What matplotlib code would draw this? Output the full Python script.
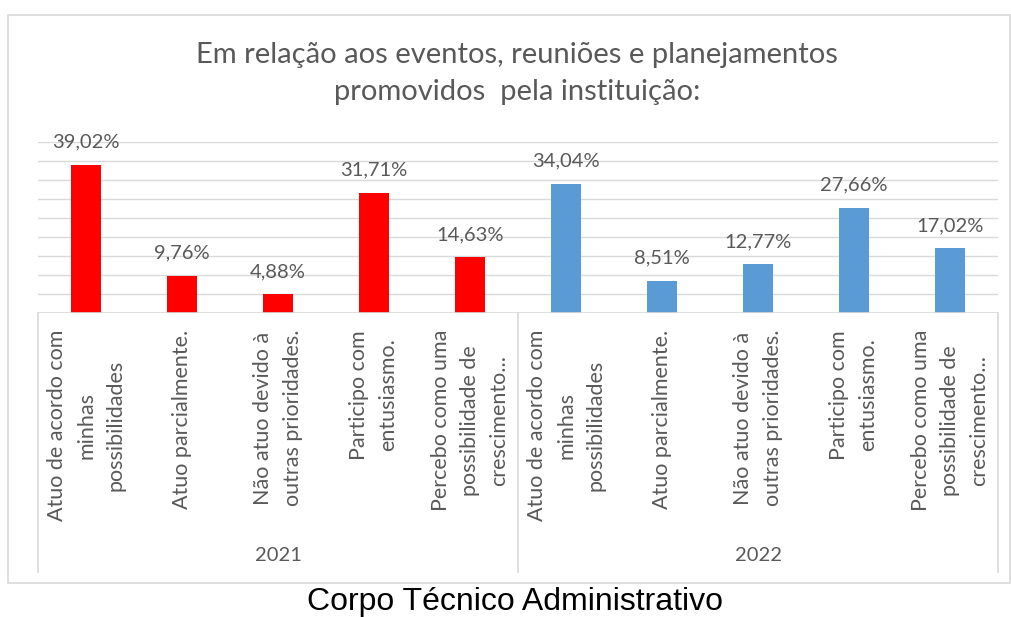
import matplotlib
matplotlib.use('Agg')
import matplotlib.pyplot as plt
from matplotlib.patches import Rectangle

plt.rcParams['font.family'] = ['Lato', 'DejaVu Sans']

TITLE_LINES = ['Em relação aos eventos, reuniões e planejamentos',
               'promovidos  pela instituição:']
CAPTION = 'Corpo Técnico Administrativo'
YEARS = ['2021', '2022']
ANSWERS = ['Atuo de acordo com\nminhas\npossibilidades',
           'Atuo parcialmente.',
           'Não atuo devido à\noutras prioridades.',
           'Participo com\nentusiasmo.',
           'Percebo como uma\npossibilidade de\ncrescimento...']
VALS_2021 = [39.02, 9.76, 4.88, 31.71, 14.63]
VALS_2022 = [34.04, 8.51, 12.77, 27.66, 17.02]
COLORS = {'2021': '#FF0000', '2022': '#5B9BD5'}

TXT = '#595959'
GRID = '#D9D9D9'

W, H = 1011, 617
fig = plt.figure(figsize=(W / 100, H / 100), dpi=100)

# outer frame of the chart object
fig.patches.append(Rectangle((8 / W, 1 - 583 / H), 1002 / W, 568 / H,
                             transform=fig.transFigure, fill=False,
                             edgecolor=GRID, lw=1.2))

ax = fig.add_axes([38 / W, 1 - 313 / H, 960 / W, 171 / H])

n = len(ANSWERS)
vals = VALS_2021 + VALS_2022
cols = [COLORS[YEARS[0]]] * n + [COLORS[YEARS[1]]] * n
xs = list(range(len(vals)))

ax.bar(xs, vals, width=0.32, color=cols, zorder=2)
for x, v in zip(xs, vals):
    lbl = f'{v:.2f}%'.replace('.', ',')
    ax.annotate(lbl, (x, v), xytext=(0, 12.5), textcoords='offset points',
                ha='center', va='baseline', fontsize=14.5, color=TXT)

ax.set_xlim(-0.5, len(vals) - 0.5)
ax.set_ylim(0, 45)
ax.set_yticks(range(0, 46, 5))
ax.yaxis.grid(True, color=GRID, lw=1, zorder=0)
ax.set_axisbelow(True)
ax.tick_params(left=False, bottom=False, labelleft=False, labelbottom=False)
for s in ax.spines.values():
    s.set_visible(False)
ax.axhline(0, color=GRID, lw=1.2, zorder=3)

# multi-level category axis
tr = ax.get_xaxis_transform()
bottom = (313 - 572) / 171
for xsep in [-0.5, n - 0.5, 2 * n - 0.5]:
    ax.plot([xsep, xsep], [0, bottom], color=GRID, lw=1.2,
            transform=tr, clip_on=False)
for x in xs:
    ax.text(x, (313 - 330) / 171, ANSWERS[x % n], rotation=90,
            ha='center', va='top', multialignment='center',
            fontsize=15.5, color=TXT, linespacing=1.57,
            transform=tr)
for k, yr in enumerate(YEARS):
    ax.text(k * n + (n - 1) / 2, (313 - 555) / 171, yr, ha='center',
            va='center', fontsize=14.5, color=TXT, transform=tr)

# title
fig.text(517 / W, 1 - 63 / H, TITLE_LINES[0], ha='center', va='baseline',
         fontsize=21, color=TXT)
fig.text(517 / W, 1 - 100 / H, TITLE_LINES[1], ha='center', va='baseline',
         fontsize=21, color=TXT)

fig.text(515 / W, 1 - 602 / H, CAPTION, ha='center', va='center',
         fontsize=23, color='black', family='Liberation Sans')

fig.savefig('out.png', dpi=100)
